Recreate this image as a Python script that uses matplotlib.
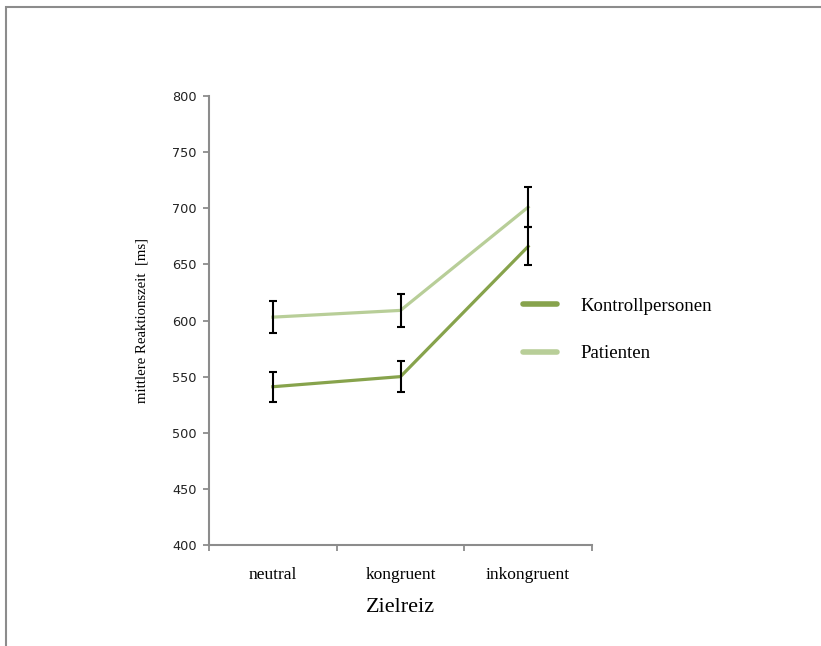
import matplotlib
matplotlib.use("Agg")
import matplotlib.pyplot as plt
from matplotlib.patches import Rectangle

categories = ["neutral", "kongruent", "inkongruent"]
kontroll = [541, 550, 666]
kontroll_err = [13.5, 14, 17]
patienten = [603, 609, 701]
patienten_err = [14.5, 15, 18]
yticks = [400, 450, 500, 550, 600, 650, 700, 750, 800]

c_kontroll = "#87a34c"
c_patienten = "#b8ce98"
grey = "#8c8c8c"

fig = plt.figure(figsize=(8.21, 6.46), dpi=100)
ax = fig.add_axes([209 / 821, 1 - 545 / 646, (592 - 209) / 821, (545 - 96) / 646])

x = [1, 2, 3]
ax.plot(x, patienten, color=c_patienten, lw=2.3, label="Patienten", zorder=2)
ax.plot(x, kontroll, color=c_kontroll, lw=2.3, label="Kontrollpersonen", zorder=3)
ax.errorbar(x, patienten, yerr=patienten_err, fmt="none", ecolor="black",
            elinewidth=1.5, capsize=3.2, capthick=1.5, zorder=4)
ax.errorbar(x, kontroll, yerr=kontroll_err, fmt="none", ecolor="black",
            elinewidth=1.5, capsize=3.2, capthick=1.5, zorder=4)

ax.set_ylim(400, 800)
ax.set_xlim(0.5, 3.5)
ax.set_yticks(yticks)
ax.set_yticklabels([str(v) for v in yticks], fontsize=9.3, family="DejaVu Sans",
                   color="#222222")
ax.set_xticks([0.5, 1.5, 2.5, 3.5])
ax.set_xticklabels([])
ax.set_xticks(x, minor=True)
ax.set_xticklabels(categories, minor=True, fontsize=12.5, family="Liberation Serif")
ax.tick_params(axis="x", which="minor", length=0, pad=16)
ax.tick_params(axis="both", which="major", color=grey, width=1.3, length=4)
ax.tick_params(axis="y", pad=5)

for side in ["top", "right"]:
    ax.spines[side].set_visible(False)
for side in ["left", "bottom"]:
    ax.spines[side].set_color(grey)
    ax.spines[side].set_linewidth(1.5)

ax.set_xlabel("Zielreiz", fontsize=16, family="Liberation Serif", labelpad=11)
ax.set_ylabel("mittlere Reaktionszeit  [ms]", fontsize=10.6, family="Liberation Serif",
              labelpad=17)

handles, labels = ax.get_legend_handles_labels()
leg = ax.legend(handles[::-1], labels[::-1], loc="center left",
                bbox_to_anchor=(506 / 821, 1 - 330 / 646), bbox_transform=fig.transFigure,
                frameon=False, prop={"family": "Liberation Serif", "size": 13.5},
                handlelength=1.8, handletextpad=1.25, labelspacing=1.6)
for line in leg.get_lines():
    line.set_linewidth(4)
    line.set_solid_capstyle("round")

fig.add_artist(Rectangle((5.5 / 821, -0.1), 1.2, 1 - 6.5 / 646 + 0.1,
                         transform=fig.transFigure, fill=False,
                         edgecolor=grey, linewidth=1.5))

fig.savefig("out.png", dpi=100, facecolor="white")
